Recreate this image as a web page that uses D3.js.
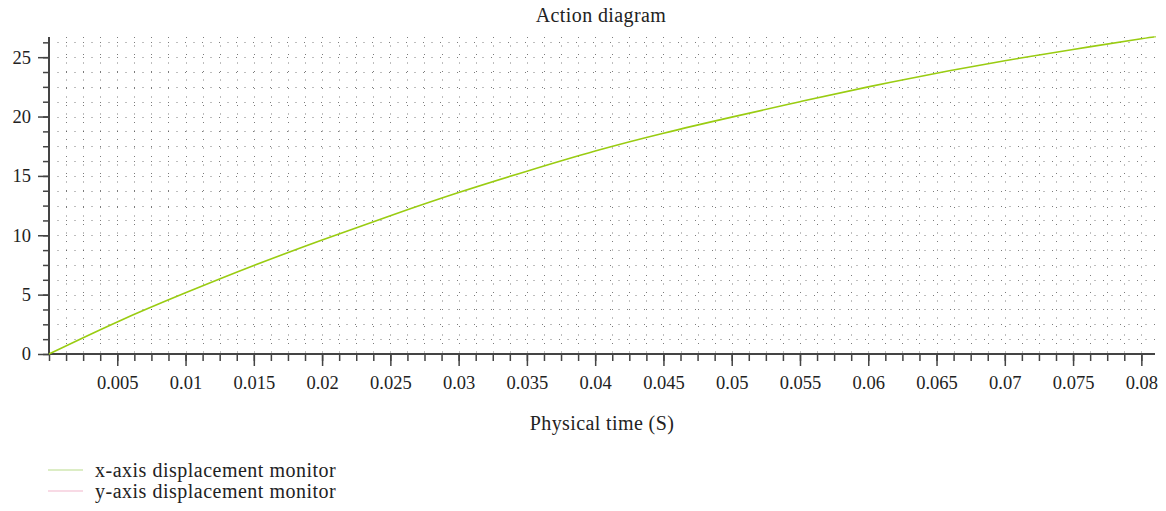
<!DOCTYPE html>
<html>
<head>
<meta charset="utf-8">
<script src="https://cdn.jsdelivr.net/npm/d3@7"></script>
<style>
  body { margin: 0; background: #fff; }
  text { font-family: "Liberation Serif", "DejaVu Serif", serif; fill: #222; }
</style>
</head>
<body>
<svg id="chart" width="1166" height="511"></svg>
<script>
// physical time (s) and x-axis displacement
var times = [0, 0.005, 0.01, 0.015, 0.02, 0.025, 0.03, 0.035, 0.04, 0.045, 0.05, 0.055, 0.06, 0.065, 0.07, 0.075, 0.08, 0.081];
var xDisp = [0, 2.7, 5.15, 7.45, 9.6, 11.65, 13.6, 15.4, 17.1, 18.6, 19.95, 21.25, 22.5, 23.65, 24.7, 25.65, 26.55, 26.7];
var yDisp = []; // y-axis monitor has no visible curve

var xTicks = [0.005, 0.01, 0.015, 0.02, 0.025, 0.03, 0.035, 0.04, 0.045, 0.05, 0.055, 0.06, 0.065, 0.07, 0.075, 0.08];
var yTicks = [0, 5, 10, 15, 20, 25];
var legendNames = ["x-axis displacement monitor", "y-axis displacement monitor"];
var legendColors = ["#b9dc8c", "#f2b6cb"];

var margin = { top: 37, right: 11, bottom: 157, left: 49 },
    width = 1166 - margin.left - margin.right,
    height = 511 - margin.top - margin.bottom;

var svg = d3.select("#chart");
var g = svg.append("g")
    .attr("transform", "translate(" + margin.left + "," + margin.top + ")");

var x = d3.scaleLinear().domain([0, 0.081]).range([0, width]);
var y = d3.scaleLinear().domain([0, 26.7]).range([height, 0]);

// minor positions (quarter steps)
var xMinor = d3.range(0, 0.0811, 0.00125);
var yMinor = d3.range(0, 26.71, 1.25);

// dotted grid
g.append("g").selectAll("line").data(yMinor.slice(1)).join("line")
    .attr("x1", 0).attr("x2", width)
    .attr("y1", function (d) { return Math.round(y(d)) + 0.5; })
    .attr("y2", function (d) { return Math.round(y(d)) + 0.5; })
    .attr("stroke", "#444").attr("stroke-opacity", 0.7)
    .attr("stroke-dasharray", "1,7.5");
g.append("g").selectAll("line").data(xMinor.slice(1)).join("line")
    .attr("y1", 0).attr("y2", height)
    .attr("x1", function (d) { return Math.round(x(d)) + 0.5; })
    .attr("x2", function (d) { return Math.round(x(d)) + 0.5; })
    .attr("stroke", "#444").attr("stroke-opacity", 0.7)
    .attr("stroke-dasharray", "1,7.5");

// minor ticks
var xMinorAxis = g.append("g")
    .attr("transform", "translate(0," + height + ")")
    .call(d3.axisBottom(x).tickValues(xMinor).tickSize(7).tickFormat(""));
var yMinorAxis = g.append("g")
    .call(d3.axisLeft(y).tickValues(yMinor).tickSize(6).tickFormat(""));

// major ticks with labels
var xAxis = g.append("g")
    .attr("transform", "translate(0," + height + ")")
    .call(d3.axisBottom(x).tickValues(xTicks).tickSize(12).tickPadding(10)
        .tickFormat(function (d) { return String(+d.toFixed(3)); }));
var yAxis = g.append("g")
    .call(d3.axisLeft(y).tickValues(yTicks).tickSize(11).tickPadding(7).tickFormat(d3.format("d")));

[xMinorAxis, yMinorAxis, xAxis, yAxis].forEach(function (a) {
    a.selectAll("path").attr("stroke", "#444").attr("stroke-width", 2);
    a.selectAll("line").attr("stroke", "#444").attr("stroke-width", 1.5);
    a.selectAll("text").attr("font-size", 18.5).attr("font-family", "Liberation Serif").attr("fill", "#222");
});
xAxis.selectAll("path").attr("d", "M0,0H" + width);
yAxis.selectAll("path").attr("d", "M0," + height + "V0");
xMinorAxis.selectAll("path").remove();
yMinorAxis.selectAll("path").remove();

// curve
g.append("path")
    .datum(times.map(function (t, i) { return [t, xDisp[i]]; }))
    .attr("fill", "none")
    .attr("stroke", "#99cc11")
    .attr("stroke-width", 1.6)
    .attr("d", d3.line()
        .curve(d3.curveNatural)
        .x(function (d) { return x(d[0]); })
        .y(function (d) { return y(d[1]); }));

// title and axis label
svg.append("text").attr("x", 601).attr("y", 22).attr("text-anchor", "middle")
    .attr("font-size", 20).attr("letter-spacing", 0.4).text("Action diagram");
svg.append("text").attr("x", 602).attr("y", 430).attr("text-anchor", "middle")
    .attr("font-size", 20).attr("letter-spacing", 0.4).text("Physical time (S)");

// legend
var legend = svg.append("g").selectAll("g").data(legendNames).join("g")
    .attr("transform", function (d, i) { return "translate(48," + (470 + i * 21) + ")"; });
legend.append("line").attr("x1", 0).attr("x2", 35)
    .attr("stroke", function (d, i) { return legendColors[i]; }).attr("stroke-width", 1.2);
legend.append("text").attr("x", 47).attr("y", 6.5).attr("font-size", 20)
    .attr("letter-spacing", 0.5)
    .text(function (d) { return d; });
</script>
</body>
</html>
